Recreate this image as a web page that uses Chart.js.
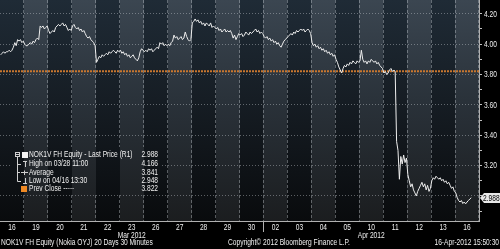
<!DOCTYPE html>
<html>
<head>
<meta charset="utf-8">
<style>
  html, body { margin: 0; padding: 0; background: #000; }
  canvas { display: block; }
</style>
</head>
<body>
<canvas id="chart" width="500" height="249"></canvas>
<script src="https://cdn.jsdelivr.net/npm/chart.js@4.4.0/dist/chart.umd.min.js"></script>
<script>
// trading days shown on the x axis
const days = ['16', '19', '20', '21', '22', '23', '26', '27', '28', '29',
  '30', '02', '03', '04', '05', '10', '11', '12', '13', '16'];
const months = ['Mar 2012', 'Apr 2012'];
const monthStart = [0, 11];
const barsPerDay = 17;

// 30 minute last prices, one row per day
const prices = [
  3.93, 3.94, 3.95, 3.94, 3.95, 3.95, 3.96, 3.95, 3.96, 3.98, 4.01, 3.99, 4.03, 4.02, 4.03, 4.01, 4.02,
  4.00, 3.99, 3.99, 4.00, 4.01, 4.00, 4.02, 4.01, 4.03, 4.04, 4.03, 4.12, 4.11, 4.12, 4.10, 4.11, 4.12,
  4.09, 4.07, 4.08, 4.09, 4.08, 4.11, 4.12, 4.13, 4.12, 4.13, 4.14, 4.12, 4.13, 4.11, 4.09, 4.10, 4.09,
  4.12, 4.13, 4.11, 4.10, 4.11, 4.09, 4.10, 4.08, 4.09, 4.07, 4.05, 4.04, 4.05, 4.03, 4.02, 4.01, 3.99,
  3.88, 3.90, 3.92, 3.91, 3.93, 3.92, 3.93, 3.94, 3.93, 3.95, 3.94, 3.95, 3.96, 3.95, 3.94, 3.96, 3.95,
  3.96, 3.94, 3.95, 3.93, 3.94, 3.92, 3.93, 3.91, 3.92, 3.93, 3.91, 3.90, 3.89, 3.91, 3.95, 3.97, 3.96,
  3.95, 3.96, 3.95, 3.97, 3.96, 3.97, 3.95, 3.96, 3.97, 3.98, 3.97, 4.01, 4.00, 4.01, 3.99, 4.00, 3.99,
  4.00, 3.99, 4.01, 4.02, 4.06, 4.04, 4.05, 4.03, 4.04, 4.05, 4.03, 4.04, 4.08, 4.05, 4.03, 4.02, 4.03,
  4.14, 4.15, 4.166, 4.15, 4.16, 4.14, 4.15, 4.13, 4.14, 4.12, 4.14, 4.13, 4.12, 4.14, 4.11, 4.12, 4.11,
  4.10, 4.11, 4.09, 4.10, 4.08, 4.09, 4.10, 4.08, 4.09, 4.08, 4.09, 4.07, 4.04, 4.06, 4.03, 4.05, 4.07,
  4.06, 4.07, 4.05, 4.06, 4.08, 4.07, 4.06, 4.08, 4.07, 4.08, 4.09, 4.10, 4.08, 4.09, 4.07, 4.08, 4.07,
  4.05, 4.04, 4.05, 4.03, 4.04, 4.02, 4.03, 4.01, 4.02, 4.00, 4.01, 3.99, 3.98, 4.00, 4.02, 4.03, 4.04,
  4.05, 4.06, 4.07, 4.06, 4.08, 4.07, 4.09, 4.08, 4.09, 4.10, 4.09, 4.10, 4.08, 4.09, 4.10, 4.09, 4.07,
  4.01, 3.99, 4.00, 3.98, 3.99, 3.97, 3.98, 3.96, 3.97, 3.95, 3.96, 3.94, 3.95, 3.93, 3.94, 3.92, 3.93,
  3.90, 3.88, 3.85, 3.83, 3.81, 3.84, 3.86, 3.85, 3.87, 3.86, 3.88, 3.87, 3.89, 3.88, 3.87, 3.89, 3.88,
  3.89, 3.96, 3.90, 3.88, 3.89, 3.87, 3.89, 3.88, 3.90, 3.89, 3.88, 3.89, 3.87, 3.88, 3.86, 3.85, 3.84,
  3.81, 3.82, 3.80, 3.81, 3.83, 3.84, 3.82, 3.83, 3.82, 3.36, 3.30, 3.11, 3.26, 3.21, 3.27, 3.22, 3.25,
  3.14, 3.10, 3.06, 3.08, 3.04, 3.02, 3.00, 3.03, 3.05, 3.07, 3.09, 3.06, 3.08, 3.04, 3.07, 3.03, 3.05,
  3.10, 3.12, 3.11, 3.13, 3.12, 3.11, 3.12, 3.10, 3.11, 3.09, 3.10, 3.08, 3.09, 3.07, 3.05, 3.06, 3.03,
  3.02, 2.99, 2.97, 2.96, 2.97, 2.95, 2.96, 2.948, 2.96, 2.97, 2.98, 2.988
];
const prevClose = 3.822;

const yTicks = [2.9, 3.0, 3.1, 3.2, 3.3, 3.4, 3.5, 3.6, 3.7, 3.8, 3.9, 4.0, 4.1, 4.2];

const legendLabels = ['NOK1V FH Equity - Last Price (R1)', 'High on 03/28 11:00',
  'Average', 'Low on 04/16 13:30', 'Prev Close -----'];
const legendValues = ['2.988', '4.166', '3.841', '2.948', '3.822'];

const footer = ['NOK1V FH Equity (Nokia OYJ) 20 Days 30 Minutes',
  'Copyright\u00a9 2012 Bloomberg Finance L.P.', '16-Apr-2012 15:50:30'];

const FONT = '8.5px "Liberation Sans", Arial, sans-serif';
const NARROW = 0.78;
const TEXT = '#f0f0f0';

const pricePoints = prices.map((p, i) => ({
  x: Math.floor(i / barsPerDay) + ((i % barsPerDay) + 0.5) / barsPerDay,
  y: p
}));

// bloomberg text is condensed, squeeze a normal face
function narrowText(ctx, text, x, y, align, color) {
  ctx.save();
  ctx.font = FONT;
  ctx.fillStyle = color || TEXT;
  ctx.textAlign = align || 'left';
  ctx.textBaseline = 'middle';
  ctx.translate(x, y);
  ctx.scale(NARROW, 1);
  ctx.fillText(text, 0, 0);
  ctx.restore();
}

// day bands with the fade to black
function fillBands(chart) {
  const { ctx, chartArea: a, scales: { x } } = chart;
  const light = ctx.createLinearGradient(0, a.top, 0, a.bottom);
  light.addColorStop(0, '#3b4651');
  light.addColorStop(0.45, '#2a323a');
  light.addColorStop(1, '#1b1d1f');
  const dark = ctx.createLinearGradient(0, a.top, 0, a.bottom);
  dark.addColorStop(0, '#1f2b36');
  dark.addColorStop(0.45, '#161d24');
  dark.addColorStop(1, '#090b0d');
  days.forEach((d, i) => {
    const x0 = Math.round(x.getPixelForValue(i));
    const x1 = Math.round(x.getPixelForValue(i + 1));
    ctx.fillStyle = i % 2 ? light : dark;
    ctx.fillRect(x0, a.top, x1 - x0, a.bottom - a.top);
  });
}

const bloomberg = {
  id: 'bloomberg',
  beforeDraw(chart) {
    const { ctx } = chart;
    ctx.save();
    ctx.fillStyle = '#000';
    ctx.fillRect(0, 0, chart.width, chart.height);
    fillBands(chart);
    ctx.restore();
  },
  afterDraw(chart) {
    const { ctx, chartArea: a, scales: { x, y } } = chart;
    ctx.save();

    // axis labels
    x.ticks.forEach((t, i) => {
      narrowText(ctx, days[i], x.getPixelForValue(t.value), a.bottom + 6.5, 'center');
    });
    y.ticks.forEach((t) => {
      if (Math.round(t.value * 10) % 2 === 0) {
        narrowText(ctx, t.value.toFixed(2), a.right + 5, y.getPixelForValue(t.value) + 0.5, 'left');
      }
    });

    // month separator and month names
    ctx.strokeStyle = '#b0b0b0';
    ctx.lineWidth = 1;
    monthStart.forEach((s, m) => {
      if (s > 0) {
        const px = Math.round(x.getPixelForValue(s)) + 0.5;
        ctx.beginPath();
        ctx.moveTo(px, a.bottom);
        ctx.lineTo(px, a.bottom + 11);
        ctx.stroke();
      }
      const end = m + 1 < monthStart.length ? monthStart[m + 1] : days.length;
      narrowText(ctx, months[m], x.getPixelForValue((s + end) / 2), a.bottom + 15, 'center');
    });

    // footer
    narrowText(ctx, footer[0], 1, 243, 'left');
    narrowText(ctx, footer[1], 228, 243, 'left');
    narrowText(ctx, footer[2], 499, 243, 'right');

    // last price tag on the axis
    const last = prices[prices.length - 1];
    const ty = Math.round(y.getPixelForValue(last));
    ctx.fillStyle = '#e8e8e8';
    ctx.beginPath();
    ctx.moveTo(a.right + 1, ty);
    ctx.lineTo(a.right + 5, ty - 5);
    ctx.lineTo(500, ty - 5);
    ctx.lineTo(500, ty + 5);
    ctx.lineTo(a.right + 5, ty + 5);
    ctx.closePath();
    ctx.fill();
    narrowText(ctx, last.toFixed(3), a.right + 4, ty + 0.5, 'left', '#000');

    // legend block
    const lx = 12, ly = 147, lw = 150, lh = 47;
    ctx.save();
    ctx.beginPath();
    ctx.rect(lx, ly, lw, lh);
    ctx.clip();
    fillBands(chart);
    ctx.restore();

    const rows = [155, 164, 172.5, 181, 189];
    legendLabels.forEach((t, i) => {
      narrowText(ctx, t, 29, rows[i], 'left');
      narrowText(ctx, legendValues[i], 158, rows[i], 'right');
    });

    ctx.strokeStyle = '#cfcfcf';
    ctx.lineWidth = 1;
    // collapse box
    ctx.strokeRect(15.5, 152.5, 4, 4);
    ctx.beginPath();
    ctx.moveTo(16, 154.5); ctx.lineTo(19, 154.5);
    // tree line
    ctx.moveTo(17.5, 157); ctx.lineTo(17.5, 181.5); ctx.lineTo(21, 181.5);
    ctx.moveTo(17.5, 164.5); ctx.lineTo(21, 164.5);
    ctx.moveTo(17.5, 172.5); ctx.lineTo(20, 172.5);
    // high marker
    ctx.moveTo(23, 161.5); ctx.lineTo(27, 161.5);
    ctx.moveTo(25.5, 161.5); ctx.lineTo(25.5, 167);
    // average marker
    ctx.moveTo(21, 172.5); ctx.lineTo(28, 172.5);
    ctx.moveTo(24.5, 170.5); ctx.lineTo(24.5, 175);
    // low marker
    ctx.moveTo(25.5, 178); ctx.lineTo(25.5, 183.5);
    ctx.moveTo(23, 183.5); ctx.lineTo(27, 183.5);
    ctx.stroke();
    ctx.fillStyle = '#f4f4f4';
    ctx.fillRect(22, 152, 6, 6);
    ctx.fillStyle = '#f08a24';
    ctx.fillRect(21, 186, 6, 6);

    ctx.restore();
  }
};

const chart = document.querySelector('#chart').getContext('2d');

new Chart(chart, {
  type: 'line',
  data: {
    datasets: [
      {
        label: 'Last Price',
        data: pricePoints,
        borderColor: '#eeeeee',
        borderWidth: 1,
        pointRadius: 0,
        tension: 0,
        order: 1
      },
      {
        label: 'Prev Close',
        data: [{ x: 0, y: prevClose }, { x: days.length, y: prevClose }],
        borderColor: '#c9772f',
        borderWidth: 2,
        borderDash: [2, 1],
        pointRadius: 0,
        order: 2
      }
    ]
  },
  options: {
    responsive: false,
    animation: false,
    devicePixelRatio: 1,
    layout: { padding: 0 },
    plugins: {
      legend: { display: false },
      tooltip: { enabled: false }
    },
    scales: {
      x: {
        type: 'linear',
        min: 0,
        max: days.length,
        afterBuildTicks: (axis) => {
          axis.ticks = days.map((d, i) => ({ value: i + 0.5 }));
        },
        afterFit: (axis) => {
          axis.height = 28;
          axis.paddingLeft = 0;
          axis.paddingRight = 0;
        },
        ticks: { display: false },
        grid: {
          offset: true,
          drawTicks: false,
          color: (c) => (c.index === 0 || c.index >= days.length) ? 'transparent' : 'rgba(210,215,220,0.38)'
        },
        border: { display: true, color: '#b0b0b0', dash: [3, 2] }
      },
      y: {
        type: 'linear',
        position: 'right',
        min: 2.835,
        max: 4.291,
        afterBuildTicks: (axis) => {
          axis.ticks = yTicks.map(v => ({ value: v }));
        },
        afterFit: (axis) => {
          axis.width = 21;
          axis.paddingTop = 0;
          axis.paddingBottom = 0;
        },
        ticks: { display: false },
        grid: {
          tickLength: 3,
          tickColor: '#c0c0c0',
          color: (c) => c.tick && Math.round(c.tick.value * 10) % 2 === 0 ? 'rgba(210,215,220,0.4)' : 'transparent'
        },
        border: { display: true, color: '#b0b0b0', dash: [1, 2] }
      }
    }
  },
  plugins: [bloomberg]
});
</script>
</body>
</html>
